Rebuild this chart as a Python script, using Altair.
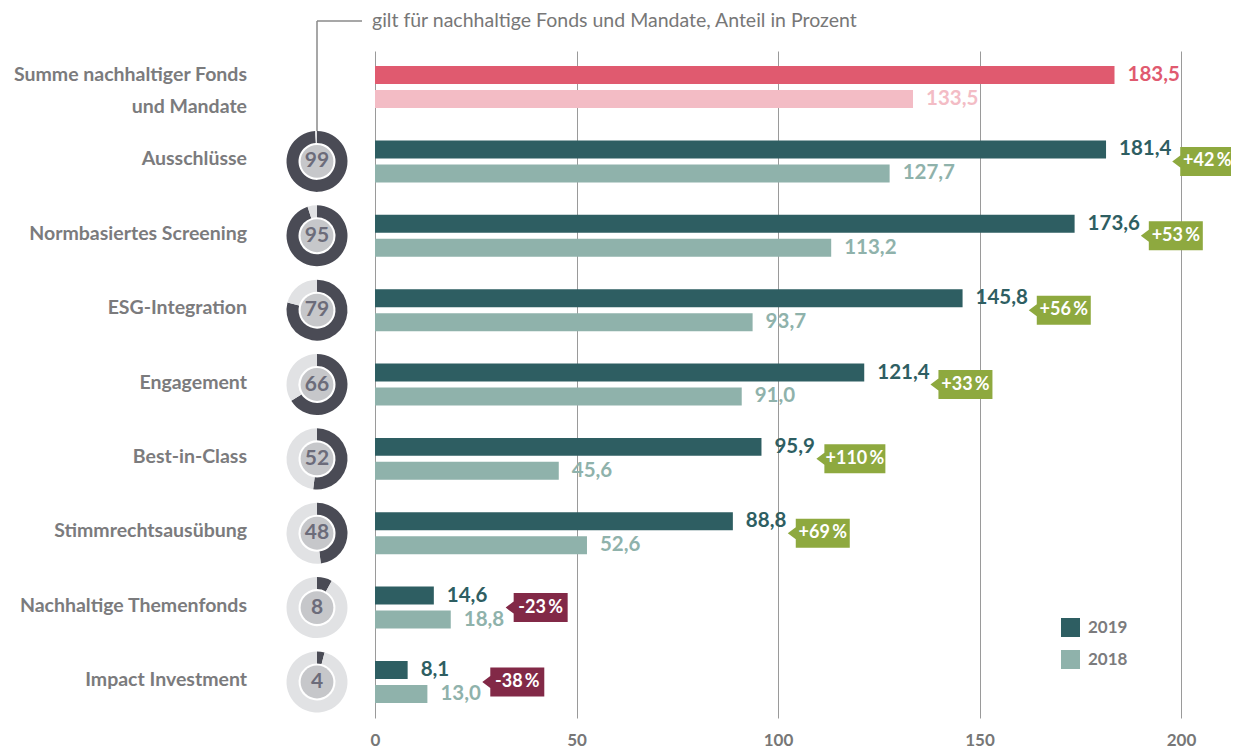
import altair as alt
import pandas as pd

# ---------------- data ----------------
categories = [
    "Summe nachhaltiger Fonds\nund Mandate",
    "Ausschlüsse",
    "Normbasiertes Screening",
    "ESG-Integration",
    "Engagement",
    "Best-in-Class",
    "Stimmrechtsausübung",
    "Nachhaltige Themenfonds",
    "Impact Investment",
]
values_2019 = [183.5, 181.4, 173.6, 145.8, 121.4, 95.9, 88.8, 14.6, 8.1]
values_2018 = [133.5, 127.7, 113.2, 93.7, 91.0, 45.6, 52.6, 18.8, 13.0]
shares = [None, 99, 95, 79, 66, 52, 48, 8, 4]          # Anteil in Prozent (donuts)
changes = [None, 42, 53, 56, 33, 110, 69, -23, -38]    # Veränderung in Prozent
years = ["2019", "2018"]
x_ticks = [0, 50, 100, 150, 200]
note = "gilt für nachhaltige Fonds und Mandate, Anteil in Prozent"

# ---------------- tables ----------------
bar_rows = []
for i, c in enumerate(categories):
    for y, v in zip(years, [values_2019[i], values_2018[i]]):
        bar_rows.append({"cat": c, "year": y, "value": v,
                         "key": ("S" if i == 0 else "") + y})
bar_df = pd.DataFrame(bar_rows)

donut_rows, disk_rows, badge_rows = [], [], []
for i, c in enumerate(categories):
    if shares[i] is not None:
        disk_rows.append({"cat": c, "share": shares[i]})
        donut_rows.append({"cat": c, "share": shares[i], "part": "on"})
        donut_rows.append({"cat": c, "share": shares[i], "part": "off"})
    if changes[i] is not None:
        badge_rows.append({"cat": c, "v19": values_2019[i], "v18": values_2018[i],
                           "change": changes[i]})
donut_df = pd.DataFrame(donut_rows)
disk_df = pd.DataFrame(disk_rows)
badge_df = pd.DataFrame(badge_rows)
label_df = pd.DataFrame({"cat": categories, "first": [i == 0 for i in range(len(categories))]})
note_df = pd.DataFrame({"note": [note]})

# ---------------- styling ----------------
FONT = "Lato"
GRAY = "#7b7b7d"
C19, C18, S19, S18 = "#2e5e62", "#8fb2ab", "#e05a6f", "#f3bcc5"
GREEN, MAROON = "#8ea93f", "#822947"
DARK, LIGHT, DISK, NUM = "#4a4b55", "#e1e2e4", "#c6c7ca", "#6c6c7a"
W, H = 806, 667
PPU = W / 200.0   # pixels per unit of the x scale
DX = -58          # donut column, left of the plot

y_enc = alt.Y("cat:N", sort=categories, axis=None, title=None,
              scale=alt.Scale(paddingInner=0.4353, paddingOuter=0.2017))
yoff = alt.YOffset("year:N", sort=years,
                   scale=alt.Scale(paddingInner=0.25, paddingOuter=0))
x_scale = alt.Scale(domain=[0, 200], nice=False, zero=True)
color = alt.Color(
    "key:N",
    scale=alt.Scale(domain=["2019", "2018", "S2019", "S2018"], range=[C19, C18, S19, S18]),
    legend=alt.Legend(values=["2019", "2018"], title=None, orient="none",
                      legendX=686, legendY=567, symbolType="square", symbolSize=361,
                      symbolStrokeWidth=0, labelFont=FONT, labelFontSize=17,
                      labelFontWeight="bold", labelColor=GRAY, labelOffset=8,
                      rowPadding=13, padding=0),
)

bars = alt.Chart(bar_df).mark_bar().encode(
    x=alt.X("value:Q", scale=x_scale, title=None,
            axis=alt.Axis(values=x_ticks, grid=True, gridColor="#9a9a9a", gridWidth=1,
                          domain=False, ticks=False, labelFlush=False, labelFont=FONT,
                          labelFontSize=17, labelFontWeight="bold", labelColor="#777777",
                          labelPadding=14)),
    y=y_enc, yOffset=yoff, color=color,
)

value_labels = alt.Chart(bar_df).transform_calculate(
    lab="replace(format(datum.value, '.1f'), '.', ',')"
).mark_text(align="left", baseline="middle", dx=13, font=FONT, fontSize=20.5,
            fontWeight="bold").encode(
    x=alt.X("value:Q", scale=x_scale), y=y_enc, yOffset=yoff, text="lab:N", color=color,
)

cat_labels_first = alt.Chart(label_df).transform_filter("datum.first").mark_text(
    align="right", baseline="middle", dy=-12, lineBreak="\n", lineHeight=32,
    font=FONT, fontSize=19.5, fontWeight="bold", color=GRAY
).encode(x=alt.value(-128), y=y_enc, text="cat:N")

cat_labels = alt.Chart(label_df).transform_filter("!datum.first").mark_text(
    align="right", baseline="middle", dy=-2,
    font=FONT, fontSize=19.5, fontWeight="bold", color=GRAY
).encode(x=alt.value(-128), y=y_enc, text="cat:N")

ring = alt.Chart(donut_df).transform_calculate(
    a0="datum.part == 'on' ? 0 : datum.share",
    a1="datum.part == 'on' ? datum.share : 100",
    c=f"datum.part == 'on' ? '{DARK}' : '{LIGHT}'",
).mark_arc(radius=30.5, radius2=18.5).encode(
    x=alt.value(DX), y=y_enc,
    theta=alt.Theta("a0:Q", stack=None, scale=alt.Scale(domain=[0, 100], range=[0, 6.283185])),
    theta2="a1:Q",
    fill=alt.Fill("c:N", scale=None),
)

disk = alt.Chart(disk_df).mark_circle(size=1075, opacity=1, color=DISK).encode(
    x=alt.value(DX), y=y_enc)

disk_num = alt.Chart(disk_df).mark_text(
    align="center", baseline="middle", font=FONT, fontSize=21, fontWeight="bold", color=NUM
).encode(x=alt.value(DX), y=y_enc, text="share:Q")

# badge: placed after the label of the longer bar (pixel gaps converted to scale units)
badge_base = alt.Chart(badge_df).transform_calculate(
    mx="max(datum.v19, datum.v18)",
).transform_calculate(
    mlab="replace(format(datum.mx, '.1f'), '.', ',')",
    btxt="(datum.change > 0 ? '+' : '') + datum.change + '\u2009%'",
).transform_calculate(
    off="13 + 11.3 * (length(datum.mlab) - 1) + 5 + 3",
    bw="length(datum.btxt) > 5 ? 61 : 54",
    bcol=f"datum.change > 0 ? '{GREEN}' : '{MAROON}'",
).transform_calculate(
    shp="'M0,0L8,-6L8,-14.5L' + (8 + datum.bw) + ',-14.5L' + (8 + datum.bw) + ',14.5L8,14.5L8,6Z'",
    bx=f"datum.mx + datum.off / {PPU}",
    tx=f"datum.mx + (datum.off + 8 + datum.bw / 2) / {PPU}",
)

badges = badge_base.mark_point(filled=True, size=4, opacity=1, strokeWidth=0).encode(
    x=alt.X("bx:Q", scale=x_scale), y=y_enc,
    shape=alt.Shape("shp:N", scale=None),
    fill=alt.Fill("bcol:N", scale=None),
)

badge_text = badge_base.mark_text(
    align="center", baseline="middle", font=FONT, fontSize=18, fontWeight="bold", color="white"
).encode(
    x=alt.X("tx:Q", scale=x_scale), y=y_enc, text="btxt:N",
)

bracket_v = alt.Chart(note_df).mark_rule(color="#8a8a8a", strokeWidth=1.5).encode(
    x=alt.value(DX), y=alt.value(-30), y2=alt.value(80))
bracket_h = alt.Chart(note_df).mark_rule(color="#8a8a8a", strokeWidth=1.5).encode(
    x=alt.value(DX), x2=alt.value(-13), y=alt.value(-30))
note_text = alt.Chart(note_df).mark_text(
    align="left", baseline="middle", font=FONT, fontSize=19.5, color="#777777"
).encode(x=alt.value(-3), y=alt.value(-30), text="note:N")

chart = alt.layer(
    bars, value_labels, cat_labels_first, cat_labels, ring, disk, disk_num,
    badges, badge_text, bracket_v, bracket_h, note_text,
).properties(
    width=W, height=H,
    autosize=alt.AutoSizeParams(type="none"),
    padding={"left": 367, "top": 43, "right": 50, "bottom": 30},
    background="white",
).configure_view(stroke=None)

chart.save("out.html", embed_options={"renderer": "svg", "actions": False})
